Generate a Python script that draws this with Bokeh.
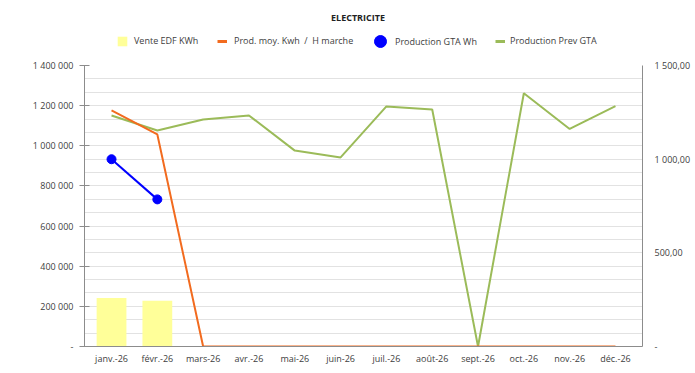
import math
from bokeh.plotting import figure
from bokeh.layouts import column
from bokeh.models import (Range1d, FactorRange, LinearAxis, FixedTicker,
                          CustomJSTickFormatter, Legend, LegendItem,
                          ColumnDataSource, Label)
from bokeh.embed import file_html
from bokeh.resources import INLINE

NaN = float("nan")

months = ["janv.-26", "févr.-26", "mars-26", "avr.-26", "mai-26", "juin-26",
          "juil.-26", "août-26", "sept.-26", "oct.-26", "nov.-26", "déc.-26"]

# Vente EDF KWh (bars, left axis)
vente_edf = [242000, 228000, NaN, NaN, NaN, NaN, NaN, NaN, NaN, NaN, NaN, NaN]
# Prod. moy. Kwh / H marche (right axis)
prod_moy = [1260, 1132, 0, 0, 0, 0, 0, 0, 0, 0, 0, 0]
# Production GTA Wh (left axis)
gta_months = ["janv.-26", "févr.-26"]
prod_gta = [933000, 733000]
# Production Prev GTA (left axis)
prod_prev = [1151000, 1076000, 1131000, 1151000, 976000, 942000,
             1196000, 1181000, 0, 1262000, 1084000, 1198000]

left_ticks = [0, 200000, 400000, 600000, 800000, 1000000, 1200000, 1400000]
right_ticks = [0, 500, 1000, 1500]

FONT = "Open Sans"
TXT = "#404040"
AXC = "#8c8c8c"
GRID = "#e2e2e2"
C_BAR = "#FFFF99"
C_MOY = "#F26B1F"
C_GTA = "#0000FF"
C_PREV = "#9BBB59"

W = 693
FL, FR = 84, 643   # frame left / right (px)

# ---------------- header (title + legend) ----------------
h = figure(width=W, height=57, x_range=Range1d(FL, FR), y_range=Range1d(0, 57),
           output_backend="svg", toolbar_location=None,
           x_axis_type=None, y_axis_type=None,
           min_border_left=FL, min_border_right=W - FR,
           min_border_top=0, min_border_bottom=0)
h.outline_line_color = None
h.xgrid.grid_line_color = None
h.ygrid.grid_line_color = None

h.add_layout(Label(x=358, y=40, text="ELECTRICITE", text_align="center",
                   text_baseline="middle", text_font=FONT, text_font_size="9px",
                   text_font_style="bold", text_color="#222222"))

# legend-only renderers (their single point lies outside the visible range)
OFF = [-9999]
hg_bar = h.vbar(x=OFF, top=OFF, bottom=OFF, width=1, fill_color=C_BAR, line_color=None)
hg_moy = h.line(x=[-9999, -9998], y=[-9999, -9999], line_color=C_MOY, line_width=3)
hg_gta = h.scatter(x=OFF, y=OFF, marker="circle", fill_color=C_GTA, line_color=C_GTA)
hg_prev = h.line(x=[-9999, -9998], y=[-9999, -9999], line_color=C_PREV, line_width=3)

def add_legend(label, rend, vx, vy, gw, gh, standoff):
    lg = Legend(items=[LegendItem(label=label, renderers=[rend])],
                location=(vx, vy), orientation="horizontal",
                glyph_width=gw, glyph_height=gh, label_standoff=standoff,
                padding=0, margin=0, border_line_color=None,
                background_fill_alpha=0, label_text_font=FONT,
                label_text_font_size="9px", label_text_color=TXT,
                label_height=gh, label_text_baseline="middle")
    h.add_layout(lg, "center")

add_legend("Vente EDF KWh", hg_bar, 116 - FL, 10, 12, 12, 6)
add_legend("Prod. moy. Kwh  /  H marche", hg_moy, 217 - FL, 10, 10, 12, 7)
add_legend("Production GTA Wh", hg_gta, 365 - FL, 1, 30, 30, -3)
add_legend("Production Prev GTA", hg_prev, 495 - FL, 10, 10, 12, 5)

# ---------------- main chart ----------------
p = figure(x_range=FactorRange(factors=months, range_padding=0.015),
           y_range=Range1d(0, 1400000),
           width=W, height=311, output_backend="svg", toolbar_location=None,
           min_border_left=FL, min_border_right=W - FR, min_border_top=8,
           min_border_bottom=22)
p.outline_line_color = None

p.extra_y_ranges = {"right": Range1d(0, 1500)}

src = ColumnDataSource(dict(m=months, vente=vente_edf, moy=prod_moy, prev=prod_prev))
gsrc = ColumnDataSource(dict(m=gta_months, gta=prod_gta))

bars = p.vbar(x="m", top="vente", width=0.65, source=src,
              fill_color=C_BAR, line_color=None)
l_prev = p.line(x="m", y="prev", source=src, line_color=C_PREV, line_width=2)
l_moy = p.line(x="m", y="moy", source=src, line_color=C_MOY, line_width=2,
               y_range_name="right")
l_gta = p.line(x="m", y="gta", source=gsrc, line_color=C_GTA, line_width=2)
s_gta = p.scatter(x="m", y="gta", source=gsrc, size=9, marker="circle",
                  fill_color=C_GTA, line_color=C_GTA)

yl = p.yaxis[0]
minor = [i * 1400000 / 21 for i in range(22)]
yl.ticker = FixedTicker(ticks=left_ticks, minor_ticks=minor)
yl.formatter = CustomJSTickFormatter(code="""
if (tick == 0) return "-";
return Math.round(tick).toString().replace(/\\B(?=(\\d{3})+(?!\\d))/g, " ");
""")
yl.axis_line_color = AXC
yl.major_tick_line_color = AXC
yl.major_tick_out = 5
yl.major_tick_in = 5
yl.minor_tick_out = 0
yl.minor_tick_in = 0
yl.major_label_standoff = 6
yl.major_label_text_font = FONT
yl.major_label_text_font_size = "9px"
yl.major_label_text_color = TXT

yr = LinearAxis(y_range_name="right", ticker=FixedTicker(ticks=right_ticks))
yr.formatter = CustomJSTickFormatter(code="""
if (tick == 0) return "-";
var s = tick.toFixed(2).split(".");
return s[0].replace(/\\B(?=(\\d{3})+(?!\\d))/g, " ") + "," + s[1];
""")
yr.axis_line_color = AXC
yr.major_tick_out = 0
yr.major_tick_in = 0
yr.minor_tick_out = 0
yr.minor_tick_in = 0
yr.major_label_standoff = 12
yr.major_label_text_font = FONT
yr.major_label_text_font_size = "9px"
yr.major_label_text_color = TXT
p.add_layout(yr, "right")

xa = p.xaxis[0]
xa.axis_line_color = AXC
xa.major_tick_out = 0
xa.major_tick_in = 0
xa.major_label_standoff = 5
xa.major_label_text_font = FONT
xa.major_label_text_font_size = "9px"
xa.major_label_text_color = TXT

p.xgrid.grid_line_color = None
p.ygrid.grid_line_color = GRID
p.ygrid.minor_grid_line_color = GRID

layout = column(h, p, spacing=0)
open("out.html", "w").write(file_html(layout, INLINE))
